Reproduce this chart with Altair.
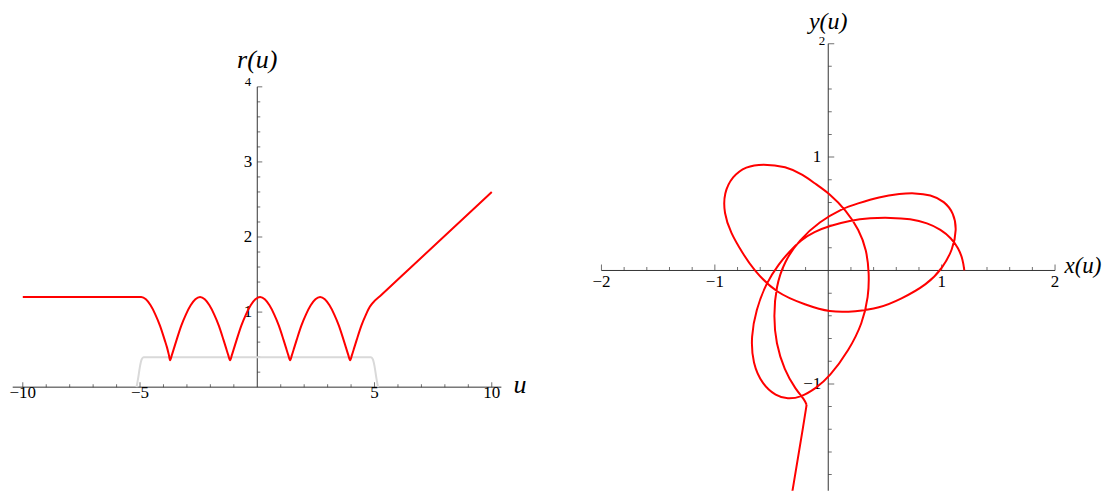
import altair as alt
import pandas as pd

# ---------------- Left panel data: r(u) ----------------
r_u = [-10.0, -5.0, -4.95, -4.75, -4.55, -4.35, -4.15, -3.95, -3.85, -3.77, -3.72,
       -3.64, -3.54, -3.44, -3.24, -3.04, -2.84, -2.64, -2.44, -2.24, -2.04, -1.84, -1.64, -1.44, -1.34, -1.24, -1.16,
       -1.08, -0.98, -0.88, -0.68, -0.48, -0.28, -0.08, 0.12, 0.32, 0.52, 0.72, 0.92, 1.12, 1.22, 1.32, 1.40,
       1.48, 1.58, 1.68, 1.88, 2.08, 2.28, 2.48, 2.68, 2.88, 3.08, 3.28, 3.48, 3.68, 3.78, 3.88, 3.96,
       4.04, 4.14, 4.24, 4.44, 4.64, 4.80, 4.89, 5.3, 6.5, 10.0]
r_val = [1.20, 1.20, 1.20, 1.17, 1.09, 0.97, 0.82, 0.63, 0.53, 0.43, 0.36,
         0.43, 0.53, 0.63, 0.82, 0.97, 1.09, 1.17, 1.20, 1.17, 1.09, 0.97, 0.82, 0.63, 0.53, 0.43, 0.36,
         0.43, 0.53, 0.63, 0.82, 0.97, 1.09, 1.17, 1.20, 1.17, 1.09, 0.97, 0.82, 0.63, 0.53, 0.43, 0.36,
         0.43, 0.53, 0.63, 0.82, 0.97, 1.09, 1.17, 1.20, 1.17, 1.09, 0.97, 0.82, 0.63, 0.53, 0.43, 0.36,
         0.43, 0.53, 0.63, 0.82, 0.97, 1.07, 1.11, 1.23, 1.58, 2.60]
g_u = [-5.15, -5.08, -5.0, -4.93, -4.85, 4.85, 4.93, 5.0, 5.08, 5.15]
g_val = [0.0, 0.12, 0.28, 0.37, 0.40, 0.40, 0.37, 0.28, 0.12, 0.0]

left_xmajor = [-10, -5, 5, 10]
left_xmajor_lbl = ["\u221210", "\u22125", "5", "10"]
left_xminor = [-9, -8, -7, -6, -4, -3, -2, -1, 1, 2, 3, 4, 6, 7, 8, 9]
left_ymajor = [1, 2, 3]
left_ymajor_lbl = ["1", "2", "3"]
left_ytop = [4]
left_ytop_lbl = ["4"]
left_yminor = [0.2, 0.4, 0.6, 0.8, 1.2, 1.4, 1.6, 1.8, 2.2, 2.4, 2.6, 2.8, 3.2, 3.4, 3.6, 3.8]
left_xaxis = [-10.43, 10.41]
left_yaxis = [0, 4]

# ---------------- Right panel data: (x(u), y(u)) ----------------
p_x = [1.200, 1.187, 1.148, 1.083, 0.994, 0.875, 0.727, 0.549, 0.371, 0.190, 0.009, -0.123, -0.241,
       -0.340, -0.432, -0.549, -0.637, -0.681, -0.667, -0.579, -0.461, -0.359, -0.241, -0.108, 0.009,
       0.185, 0.302, 0.355, 0.361, 0.338, 0.273, 0.156, 0.009, -0.104, -0.223, -0.371, -0.579, -0.727,
       -0.846, -0.920, -0.920, -0.861, -0.757, -0.662, -0.461, -0.196, 0.009, 0.244, 0.449, 0.638,
       0.875, 1.009, 1.098, 1.134, 1.107, 1.024, 0.905, 0.757, 0.638, 0.449, 0.252, 0.126, -0.079,
       -0.256, -0.388, -0.461, -0.482, -0.461, -0.388, -0.285, -0.211, -0.191,
       -0.191, -0.211, -0.326, -0.420]
p_y = [0.000, 0.097, 0.199, 0.287, 0.361, 0.419, 0.455, 0.466, 0.463, 0.440, 0.392, 0.342, 0.269,
       0.170, 0.063, -0.113, -0.348, -0.583, -0.818, -1.009, -1.106, -1.135, -1.118, -1.038, -0.941,
       -0.700, -0.465, -0.231, -0.025, 0.181, 0.357, 0.533, 0.680, 0.757, 0.845, 0.918, 0.941, 0.918,
       0.830, 0.683, 0.507, 0.331, 0.155, 0.010, -0.201, -0.304, -0.370, -0.363, -0.333, -0.255,
       -0.123, 0.023, 0.185, 0.361, 0.507, 0.610, 0.669, 0.683, 0.677, 0.650, 0.588, 0.548, 0.430,
       0.269, 0.078, -0.143, -0.407, -0.641, -0.877, -1.053, -1.135, -1.185,
       -1.185, -1.317, -2.006, -2.570]
p_seg = ["loop"] * 72 + ["exit"] * 4

right_xmajor = [-2, -1, 1, 2]
right_xmajor_lbl = ["\u22122", "\u22121", "1", "2"]
right_xminor = [-1.8, -1.6, -1.4, -1.2, -0.8, -0.6, -0.4, -0.2, 0.2, 0.4, 0.6, 0.8, 1.2, 1.4, 1.6, 1.8]
right_ymajor = [-1, 1]
right_ymajor_lbl = ["\u22121", "1"]
right_ytop = [2]
right_ytop_lbl = ["2"]
right_yminor = [-1.8, -1.6, -1.4, -1.2, -0.8, -0.6, -0.4, -0.2, 0.2, 0.4, 0.6, 0.8, 1.2, 1.4, 1.6, 1.8]
right_xaxis = [-2, 2]
right_yaxis = [-2, 2]

AX = "#333333"
RED = "#ff0000"
GRAY = "#d9d9d9"
FONT = "Liberation Serif"

H = 483
W1, W2 = 552, 542
L_XD = [-10.6306, 12.8888]
L_YD = [-1.380, 5.047]
R_XD = [-2.3700, 2.4053]
R_YD = [-1.9427, 2.3128]


def xs(dom, f="x"):
    return alt.X(f"{f}:Q", scale=alt.Scale(domain=dom, nice=False, zero=False), axis=None)


def ys(dom, f="y"):
    return alt.Y(f"{f}:Q", scale=alt.Scale(domain=dom, nice=False, zero=False), axis=None)


def panel(xd, yd, xaxis, yaxis, xmaj, xmaj_lbl, xmin, ymaj, ymaj_lbl, ymin, ytop, ytop_lbl,
          majlen, minlen, xlbl_dy, lbl_size, ylbl_dx, ytop_dx, ytop_dy, clip):
    ax_x = alt.Chart(pd.DataFrame({"x": [xaxis[0]], "x2": [xaxis[1]], "y": [0]})).mark_rule(
        color=AX, strokeWidth=1, clip=clip).encode(x=xs(xd), x2="x2:Q", y=ys(yd))
    ax_y = alt.Chart(pd.DataFrame({"x": [0], "y": [yaxis[0]], "y2": [yaxis[1]]})).mark_rule(
        color=AX, strokeWidth=1, clip=clip).encode(x=xs(xd), y=ys(yd), y2="y2:Q")
    dxmaj = pd.DataFrame({"x": xmaj, "y": [0] * len(xmaj), "t": xmaj_lbl})
    dxmin = pd.DataFrame({"x": xmin, "y": [0] * len(xmin)})
    dymaj = pd.DataFrame({"x": [0] * len(ymaj), "y": ymaj, "t": ymaj_lbl})
    dymin = pd.DataFrame({"x": [0] * len(ymin), "y": ymin})
    dytop = pd.DataFrame({"x": [0] * len(ytop), "y": ytop, "t": ytop_lbl})
    tx_maj = alt.Chart(dxmaj).mark_tick(orient="vertical", size=majlen, thickness=1, color=AX,
                                        yOffset=-majlen / 2, clip=clip).encode(x=xs(xd), y=ys(yd))
    tx_min = alt.Chart(dxmin).mark_tick(orient="vertical", size=minlen, thickness=1, color=AX,
                                        yOffset=-minlen / 2, clip=clip).encode(x=xs(xd), y=ys(yd))
    dyall = pd.concat([dymaj[["x", "y"]], dytop[["x", "y"]]])
    ty_maj = alt.Chart(dyall).mark_tick(orient="horizontal", size=majlen, thickness=1, color=AX,
                                        xOffset=majlen / 2, clip=clip).encode(x=xs(xd), y=ys(yd))
    ty_min = alt.Chart(dymin).mark_tick(orient="horizontal", size=minlen, thickness=1, color=AX,
                                        xOffset=minlen / 2, clip=clip).encode(x=xs(xd), y=ys(yd))
    lx = alt.Chart(dxmaj).mark_text(font=FONT, fontSize=lbl_size, align="center", baseline="alphabetic",
                                    dy=xlbl_dy, color="black").encode(x=xs(xd), y=ys(yd), text="t:N")
    ly = alt.Chart(dymaj).mark_text(font=FONT, fontSize=lbl_size, align="right", baseline="middle",
                                    dx=ylbl_dx, color="black").encode(x=xs(xd), y=ys(yd), text="t:N")
    lt = alt.Chart(dytop).mark_text(font=FONT, fontSize=13, align="right", baseline="alphabetic",
                                    dx=ytop_dx, dy=ytop_dy, color="black").encode(x=xs(xd), y=ys(yd), text="t:N")
    return [ax_x, ax_y, tx_maj, tx_min, ty_maj, ty_min, lx, ly, lt]


# ---- left panel
left_layers = panel(L_XD, L_YD, left_xaxis, left_yaxis, left_xmajor, left_xmajor_lbl, left_xminor,
                    left_ymajor, left_ymajor_lbl, left_yminor, left_ytop, left_ytop_lbl,
                    majlen=5, minlen=3, xlbl_dy=10.5, lbl_size=17, ylbl_dx=-5, ytop_dx=-6, ytop_dy=-1,
                    clip=False)
gray = alt.Chart(pd.DataFrame({"x": g_u, "y": g_val})).mark_line(
    color=GRAY, strokeWidth=2, interpolate="monotone").encode(x=xs(L_XD), y=ys(L_YD))
red_l = alt.Chart(pd.DataFrame({"x": r_u, "y": r_val})).mark_line(
    color=RED, strokeWidth=2, interpolate="monotone").encode(x=xs(L_XD), y=ys(L_YD))
t_r = alt.Chart(pd.DataFrame({"x": [0], "y": [4], "t": ["r(u)"]})).mark_text(
    font=FONT, fontSize=26, fontStyle="italic", align="center", baseline="alphabetic", dy=-19,
    color="black").encode(x=xs(L_XD), y=ys(L_YD), text="t:N")
t_u = alt.Chart(pd.DataFrame({"x": [10.93], "y": [0], "t": ["u"]})).mark_text(
    font=FONT, fontSize=26, fontStyle="italic", align="left", baseline="alphabetic", dy=6,
    color="black").encode(x=xs(L_XD), y=ys(L_YD), text="t:N")
left = alt.layer(*left_layers, gray, red_l, t_r, t_u).properties(width=W1, height=H)

# ---- right panel
right_layers = panel(R_XD, R_YD, right_xaxis, right_yaxis, right_xmajor, right_xmajor_lbl, right_xminor,
                     right_ymajor, right_ymajor_lbl, right_yminor, right_ytop, right_ytop_lbl,
                     majlen=6, minlen=3.5, xlbl_dy=16.5, lbl_size=17, ylbl_dx=-7, ytop_dx=-3, ytop_dy=1,
                     clip=True)
dfp = pd.DataFrame({"x": p_x, "y": p_y, "seg": p_seg, "i": list(range(len(p_x)))})
red_r = alt.Chart(dfp).mark_line(color=RED, strokeWidth=2, interpolate="basis", clip=True).encode(
    x=xs(R_XD), y=ys(R_YD), detail="seg:N", order="i:Q")
t_y = alt.Chart(pd.DataFrame({"x": [0], "y": [2], "t": ["y(u)"]})).mark_text(
    font=FONT, fontSize=24, fontStyle="italic", align="center", baseline="alphabetic", dy=-14.5,
    color="black").encode(x=xs(R_XD), y=ys(R_YD), text="t:N")
t_x = alt.Chart(pd.DataFrame({"x": [2.083], "y": [0], "t": ["x(u)"]})).mark_text(
    font=FONT, fontSize=23, fontStyle="italic", align="left", baseline="alphabetic", dy=3,
    color="black").encode(x=xs(R_XD), y=ys(R_YD), text="t:N")
right = alt.layer(*right_layers, red_r, t_y, t_x).properties(width=W2, height=H)

chart = alt.hconcat(left, right, spacing=0).properties(padding=0).configure_view(stroke=None)
chart.save("out.html", embed_options={"renderer": "svg", "actions": False})
